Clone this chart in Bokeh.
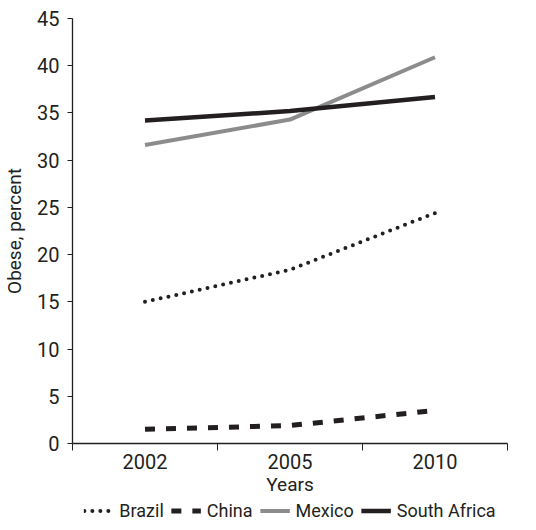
from bokeh.plotting import figure
from bokeh.models import FixedTicker, Range1d, Legend, LegendItem
from bokeh.layouts import column
from bokeh.embed import file_html
from bokeh.resources import INLINE

years = ["2002", "2005", "2010"]
brazil = [15.0, 18.4, 24.4]
china = [1.5, 1.9, 3.5]
mexico = [31.6, 34.3, 40.9]
south_africa = [34.2, 35.2, 36.7]
series_names = ["Brazil", "China", "Mexico", "South Africa"]

DARK = "#231f20"
GRAY = "#8c8c8c"
FONT = "Roboto"

styles = [
    dict(line_color=DARK, line_width=4, line_dash="0 8", line_cap="round"),
    dict(line_color=DARK, line_width=5, line_dash="10 11", line_cap="butt"),
    dict(line_color=GRAY, line_width=4),
    dict(line_color=DARK, line_width=4.5),
]
series = [brazil, china, mexico, south_africa]

xpos = [i + 0.5 for i in range(len(years))]

p = figure(frame_width=435, frame_height=425, output_backend="svg",
           toolbar_location=None, x_range=Range1d(0, len(years)),
           y_range=Range1d(0, 45), min_border_left=72, min_border_top=18,
           min_border_right=21, min_border_bottom=0)
p.background_fill_color = None
p.border_fill_color = "white"
p.outline_line_color = None
p.xgrid.grid_line_color = None
p.ygrid.grid_line_color = None

for vals, st in zip(series, styles):
    p.line(xpos, vals, **st)

xa = p.xaxis[0]
xa.ticker = FixedTicker(ticks=xpos, minor_ticks=list(range(len(years) + 1)))
xa.major_label_overrides = {x: y for x, y in zip(xpos, years)}
xa.minor_tick_line_color = DARK
xa.minor_tick_in = 0
xa.minor_tick_out = 7
xa.major_tick_in = 0
xa.major_tick_out = 7
xa.major_label_standoff = 3
xa.axis_label = "Years"
xa.axis_label_standoff = 1

ya = p.yaxis[0]
ya.ticker = FixedTicker(ticks=list(range(0, 46, 5)))
ya.minor_tick_line_color = None
ya.major_tick_in = 0
ya.major_tick_out = 5
ya.major_label_standoff = 8
ya.axis_label = "Obese, percent"
ya.axis_label_standoff = 8

for ax in (xa, ya):
    ax.axis_line_color = DARK
    ax.axis_line_width = 1.3
    ax.major_tick_line_color = DARK if ax is ya else None
    ax.major_label_text_font = FONT
    ax.major_label_text_font_size = "20px"
    ax.major_label_text_color = DARK
    ax.axis_label_text_font = FONT
    ax.axis_label_text_font_size = "19px"
    ax.axis_label_text_font_style = "normal"
    ax.axis_label_text_color = DARK

# legend strip below the chart; its copies of the series lie outside its visible range
lg = figure(width=528, height=24, output_backend="svg", toolbar_location=None,
            x_axis_type=None, y_axis_type=None, min_border=0,
            x_range=Range1d(0, len(years)), y_range=Range1d(100, 101))
lg.outline_line_color = None
lg.background_fill_color = None
lg.border_fill_color = "white"
lg.xgrid.grid_line_color = None
lg.ygrid.grid_line_color = None
items = []
for name, vals, st in zip(series_names, series, styles):
    r = lg.line(xpos, vals, **st)
    items.append(LegendItem(label=name, renderers=[r]))

legend = Legend(items=items, orientation="horizontal", location="center")
legend.glyph_width = 30
legend.glyph_height = 18
legend.label_height = 18
legend.label_standoff = 6
legend.spacing = 7
legend.padding = 0
legend.margin = 0
legend.border_line_color = None
legend.background_fill_alpha = 0
legend.label_text_font = FONT
legend.label_text_font_size = "18px"
legend.label_text_color = DARK
lg.add_layout(legend, "center")

layout = column(p, lg, spacing=0)
open("out.html", "w").write(file_html(layout, INLINE))
